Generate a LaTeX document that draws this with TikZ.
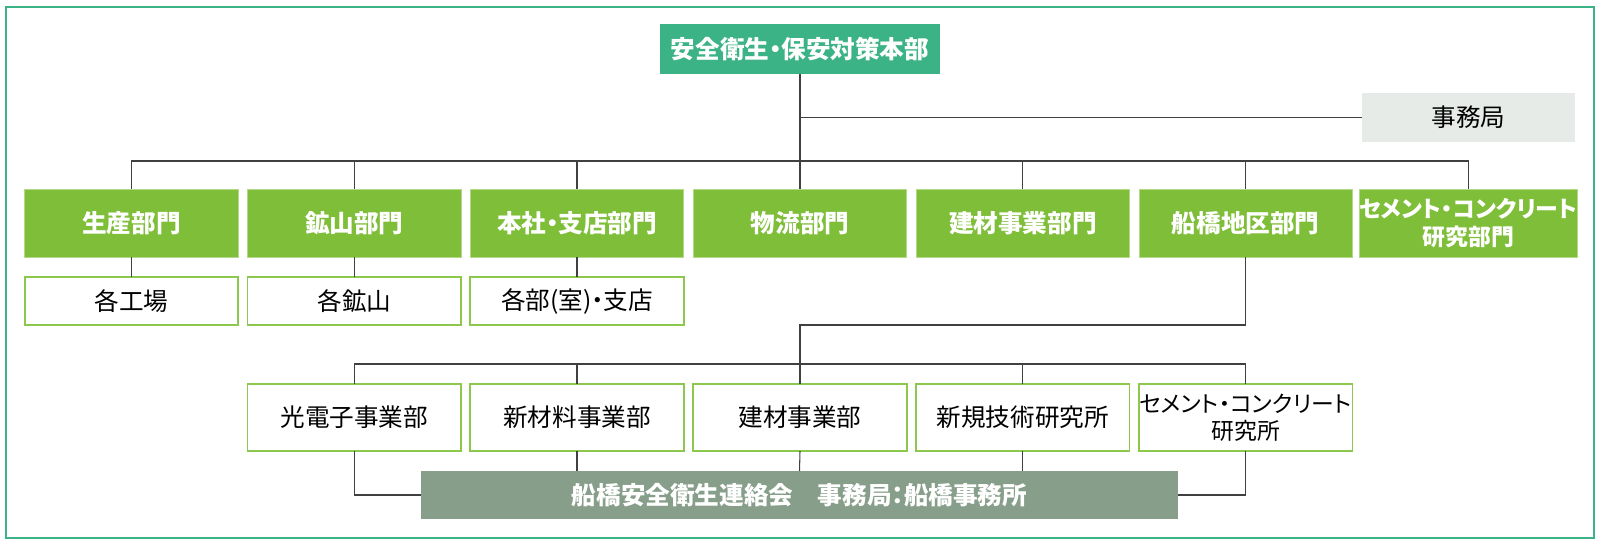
\documentclass[tikz,border=0pt]{standalone}
\usepackage{fontspec}
\setmainfont[RawFeature=+palt]{Noto Sans CJK JP}
\newfontfamily\kanafont[RawFeature=+palt]{Noto Sans CJK JP}
\definecolor{hqgreen}{RGB}{59,179,134}
\definecolor{deptgreen}{RGB}{126,190,56}
\definecolor{edgegreen}{RGB}{141,200,78}
\definecolor{officegray}{RGB}{230,235,232}
\definecolor{councilgray}{RGB}{135,159,138}
\definecolor{linegray}{RGB}{64,64,64}
\tikzset{
  every node/.style={inner sep=0pt,outer sep=0pt,font=\fontsize{14}{16}\selectfont},
  hqbox/.style={fill=hqgreen,text=white,font=\fontsize{14}{16}\selectfont\bfseries,
    minimum width=56mm,minimum height=10mm},
  deptbox/.style={fill=deptgreen,draw=deptgreen!60!white,line width=0.5pt,text=white,
    font=\fontsize{14}{16}\selectfont\bfseries,align=center,
    minimum width=42.7mm,minimum height=13.6mm},
  unitbox/.style={fill=white,draw=edgegreen,line width=0.9pt,
    minimum width=42.7mm,minimum height=9.6mm},
  labbox/.style={fill=white,draw=edgegreen,line width=0.9pt,align=center,
    minimum width=42.7mm,minimum height=13.4mm},
  officebox/.style={fill=officegray,minimum width=42.7mm,minimum height=9.7mm},
  councilbox/.style={fill=councilgray,text=white,font=\fontsize{14}{16}\selectfont\bfseries,
    minimum width=151.4mm,minimum height=9.6mm},
  conn/.style={draw=linegray,line width=0.6pt}
}
\begin{document}
\begin{tikzpicture}[x=0.2mm,y=-0.2mm]
\useasboundingbox (0,0) rectangle (1600,544);
\draw[hqgreen,line width=1.2pt] (6,7) rectangle (1594,538);

\node[hqbox] (hq) at (800,49) {安全衛生・保安対策本部};
\node[officebox] (office) at (1468.5,117.5) {事務局};

\node[deptbox] (seisan) at (131.5,223) {生産部門};
\node[deptbox] (kozan) at (354.3,223) {鉱山部門};
\node[deptbox] (honsha) at (577,223) {本社・支店部門};
\node[deptbox] (butsuryu) at (800,223) {物流部門};
\node[deptbox] (kenzai) at (1022.8,223) {建材事業部門};
\node[deptbox] (funabashi) at (1245.7,223) {船橋地区部門};
\node[deptbox,font=\fontsize{13}{15.5}\selectfont\bfseries] (cement) at (1468.5,223) {\kanafont\bfseries セメント・コンクリート\\研究部門};

\node[unitbox] (kojo) at (131.5,301) {各工場};
\node[unitbox] (kozanu) at (354.3,301) {各鉱山};
\node[unitbox] (shiten) at (577,301) {各部(室)・支店};

\node[labbox] (hikari) at (354.3,417.5) {光電子事業部};
\node[labbox] (shinzai) at (577,417.5) {新材料事業部};
\node[labbox] (kenzaib) at (800,417.5) {建材事業部};
\node[labbox] (shinki) at (1022.8,417.5) {新規技術研究所};
\node[labbox,font=\fontsize{13}{15.5}\selectfont] (cemlab) at (1245.7,417.5) {\kanafont セメント・コンクリート\\研究所};

\node[councilbox] (council) at (799.5,495) {船橋安全衛生連絡会　事務局：船橋事務所};

\coordinate (bus) at (800,161);
\coordinate (bend) at (800,325);
\coordinate (labbus) at (800,364);

\draw[conn] (hq.south) -- (bus);
\draw[conn] (hq.south |- office.west) -- (office.west);
\draw[conn] (seisan.north) |- (bus) -| (cement.north);
\draw[conn] (kozan.north) -- (kozan.north |- bus);
\draw[conn] (honsha.north) -- (honsha.north |- bus);
\draw[conn] (butsuryu.north) -- (bus);
\draw[conn] (kenzai.north) -- (kenzai.north |- bus);
\draw[conn] (funabashi.north) -- (funabashi.north |- bus);

\draw[conn] (seisan.south) -- (kojo.north);
\draw[conn] (kozan.south) -- (kozanu.north);
\draw[conn] (honsha.south) -- (shiten.north);

\draw[conn] (funabashi.south) |- (bend) -- (labbus);
\draw[conn] (hikari.north) |- (labbus) -| (cemlab.north);
\draw[conn] (shinzai.north) -- (shinzai.north |- labbus);
\draw[conn] (kenzaib.north) -- (labbus);
\draw[conn] (shinki.north) -- (shinki.north |- labbus);

\draw[conn] (hikari.south) |- (council.west);
\draw[conn] (cemlab.south) |- (council.east);
\draw[conn] (shinzai.south) -- (shinzai.south |- council.north);
\draw[conn] (kenzaib.south) -- (council.north);
\draw[conn] (shinki.south) -- (shinki.south |- council.north);
\end{tikzpicture}
\end{document}
